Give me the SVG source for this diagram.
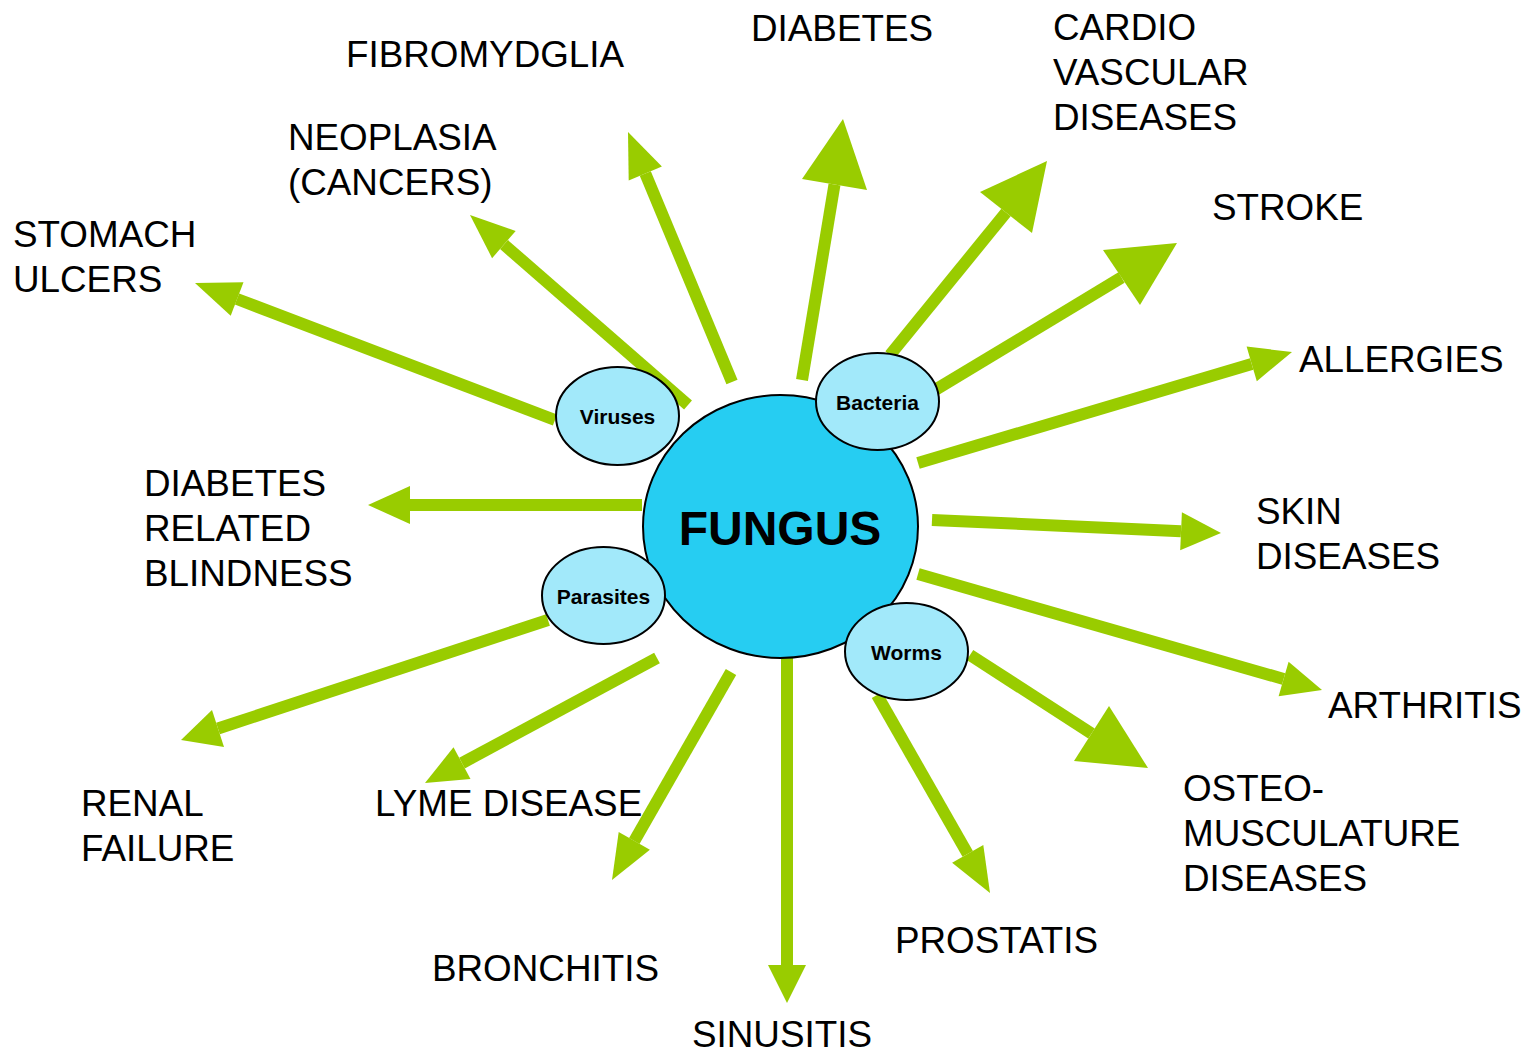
<svg xmlns="http://www.w3.org/2000/svg" width="1533" height="1053" viewBox="0 0 1533 1053">
<style>
.shaft{stroke:#99CC00;stroke-width:12;fill:none}
.head{fill:#99CC00}
.lbl{font-family:"Liberation Sans",Arial,sans-serif;font-size:36.8px;fill:#000}
.sub{font-family:"Liberation Sans",Arial,sans-serif;font-size:21px;font-weight:bold;fill:#000}
.node{stroke:#000;stroke-width:2}
</style>
<rect width="1533" height="1053" fill="#fff"/>
<g id="connectors">
<line class="shaft" x1="555" y1="420" x2="237" y2="299"/><polygon class="head" points="195,283 243.5,282.2 230.7,315.8"/>
<line class="shaft" x1="688" y1="405" x2="504" y2="244.6"/><polygon class="head" points="470,215 515.7,231 492.1,258.2"/>
<line class="shaft" x1="732" y1="382" x2="645.3" y2="173.5"/><polygon class="head" points="628,132 661.9,166.6 628.7,180.4"/>
<line class="shaft" x1="802" y1="380" x2="834.5" y2="184.5"/><polygon class="head" points="843,119 867,190 802,179"/>
<line class="shaft" x1="890" y1="355" x2="1006" y2="212.5"/><polygon class="head" points="1047,161 1032,233 980,192"/>
<line class="shaft" x1="935" y1="390" x2="1121.5" y2="277.5"/><polygon class="head" points="1177,243 1140,305 1103,250"/>
<line class="shaft" x1="918" y1="463" x2="1251.7" y2="363.9"/><polygon class="head" points="1292,352 1256.8,381.2 1246.6,346.6"/>
<line class="shaft" x1="932" y1="520" x2="1181" y2="531.2"/><polygon class="head" points="1221,533 1180.2,550.2 1181.9,512.2"/>
<line class="shaft" x1="918" y1="574" x2="1283.6" y2="679"/><polygon class="head" points="1322,690 1278.6,696.3 1288.6,661.7"/>
<line class="shaft" x1="970" y1="655" x2="1091.5" y2="733.5"/><polygon class="head" points="1148,768 1074,761 1109,706"/>
<line class="shaft" x1="877" y1="695" x2="967.7" y2="853.9"/><polygon class="head" points="990,893 952.1,862.8 983.3,845"/>
<line class="shaft" x1="787" y1="658" x2="787" y2="965"/><polygon class="head" points="787,1003 768,965 806,965"/>
<line class="shaft" x1="731" y1="672" x2="634.3" y2="840.9"/><polygon class="head" points="612,880 618.7,832 649.9,849.8"/>
<line class="shaft" x1="657" y1="658" x2="462" y2="763.1"/><polygon class="head" points="425,783 453.5,747.3 470.5,778.9"/>
<line class="shaft" x1="548" y1="620" x2="218" y2="728.5"/><polygon class="head" points="181,740 212,710 224,747"/>
<line class="shaft" x1="642" y1="505" x2="410" y2="505"/><polygon class="head" points="368,505 410,486 410,524"/>
</g>
<g id="fungus"><ellipse class="node" cx="780.5" cy="526.5" rx="137.5" ry="131.5" fill="#26CDF2"/><text x="780" y="545" text-anchor="middle" font-family="Liberation Sans,Arial,sans-serif" font-size="48" font-weight="bold">FUNGUS</text></g>
<g id="viruses"><ellipse class="node" cx="617.5" cy="416" rx="61.5" ry="49" fill="#A2E9FA"/><text class="sub" x="617.5" y="423.5" text-anchor="middle">Viruses</text></g>
<g id="bacteria"><ellipse class="node" cx="877.5" cy="401.5" rx="61.5" ry="48.5" fill="#A2E9FA"/><text class="sub" x="877.5" y="409.5" text-anchor="middle">Bacteria</text></g>
<g id="parasites"><ellipse class="node" cx="603.5" cy="595.5" rx="61.5" ry="48.5" fill="#A2E9FA"/><text class="sub" x="603.5" y="603.5" text-anchor="middle">Parasites</text></g>
<g id="worms"><ellipse class="node" cx="906.5" cy="651.5" rx="61.5" ry="48.5" fill="#A2E9FA"/><text class="sub" x="906.5" y="659.5" text-anchor="middle">Worms</text></g>
<g id="labels">
<text class="lbl" x="346" y="67">FIBROMYDGLIA</text>
<text class="lbl" x="751" y="41">DIABETES</text>
<text class="lbl" x="1053" y="40">CARDIO<tspan x="1053" dy="45">VASCULAR</tspan><tspan x="1053" dy="45">DISEASES</tspan></text>
<text class="lbl" x="288" y="150">NEOPLASIA<tspan x="288" dy="45">(CANCERS)</tspan></text>
<text class="lbl" x="13" y="247">STOMACH<tspan x="13" dy="45">ULCERS</tspan></text>
<text class="lbl" x="1212" y="220">STROKE</text>
<text class="lbl" x="1299" y="372">ALLERGIES</text>
<text class="lbl" x="144" y="496">DIABETES<tspan x="144" dy="45">RELATED</tspan><tspan x="144" dy="45">BLINDNESS</tspan></text>
<text class="lbl" x="1256" y="524">SKIN<tspan x="1256" dy="45">DISEASES</tspan></text>
<text class="lbl" x="1328" y="718">ARTHRITIS</text>
<text class="lbl" x="81" y="816">RENAL<tspan x="81" dy="45">FAILURE</tspan></text>
<text class="lbl" x="375" y="816">LYME DISEASE</text>
<text class="lbl" x="1183" y="801">OSTEO-<tspan x="1183" dy="45">MUSCULATURE</tspan><tspan x="1183" dy="45">DISEASES</tspan></text>
<text class="lbl" x="895" y="953">PROSTATIS</text>
<text class="lbl" x="432" y="981">BRONCHITIS</text>
<text class="lbl" x="692" y="1047">SINUSITIS</text>
</g>
</svg>
